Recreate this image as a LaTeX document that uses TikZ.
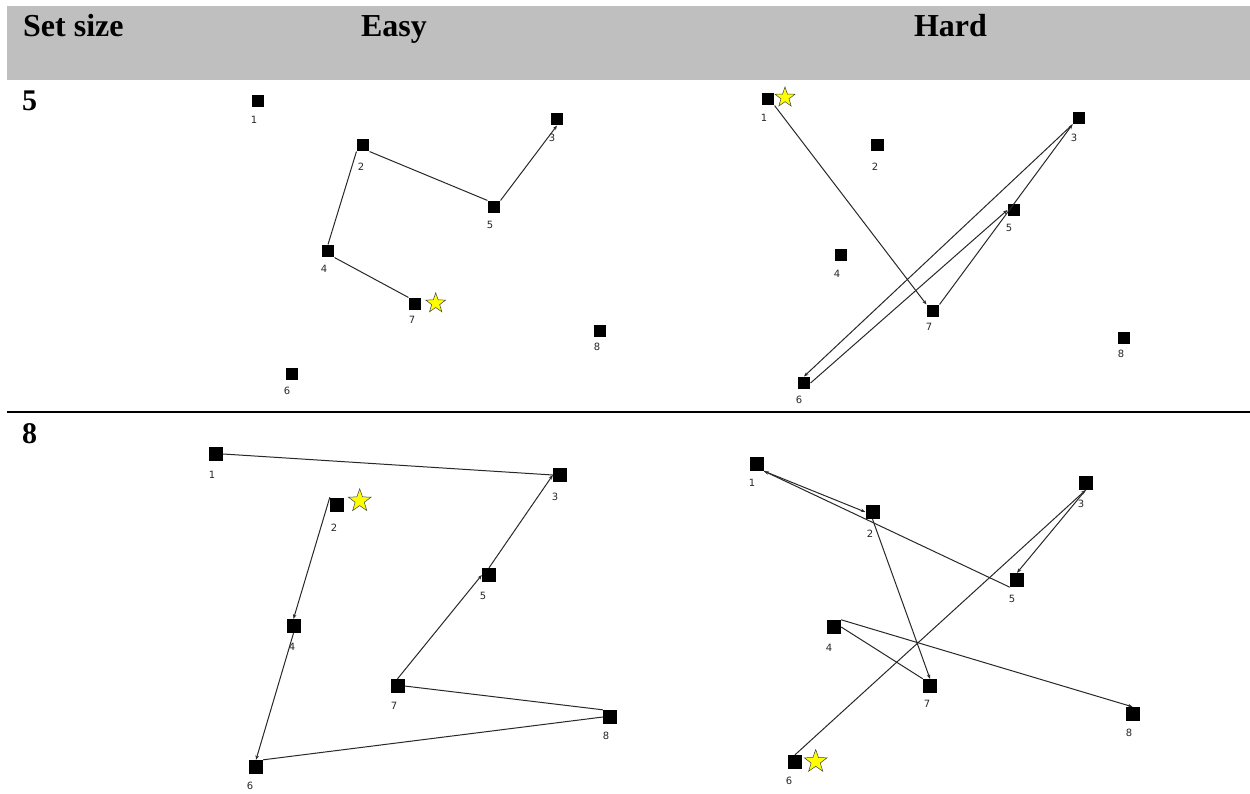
\documentclass[tikz,border=0pt]{standalone}
\usepackage{fontspec}
\setmainfont{Liberation Serif}
\newfontfamily\labfont{DejaVu Sans}
\usetikzlibrary{shapes.geometric,arrows.meta}
\definecolor{hdrgray}{RGB}{191,191,191}
\definecolor{edgegray}{RGB}{40,40,40}
\definecolor{staryellow}{RGB}{255,255,0}
\tikzset{
  sqs/.style={fill=black, draw=none, minimum size=12.7pt, inner sep=0pt},
  sqb/.style={fill=black, draw=none, minimum size=14pt, inner sep=0pt},
  lab/.style={font=\labfont\fontsize{10}{11}\selectfont, inner sep=0pt, text=black!85},
  hdr/.style={font=\bfseries\fontsize{32}{36}\selectfont, inner sep=0pt},
  rowlab/.style={font=\bfseries\fontsize{30}{34}\selectfont, inner sep=0pt},
  startstar/.style={star, star points=5, star point ratio=2.5, fill=staryellow, draw=black!75, line width=0.5pt, inner sep=0pt},
  conn/.style={draw=edgegray, line width=1pt},
  arr/.style={conn, -{Stealth[length=4.5pt,width=3.5pt]}}
}
\begin{document}
\begin{tikzpicture}[x=1pt,y=-1pt]
\useasboundingbox (0,0) rectangle (1250,793);
% header
\fill[hdrgray] (7,6) rectangle (1250,80);
\node[hdr, anchor=base west] (hset) at (23,36) {Set size};
\node[hdr, anchor=base] (heasy) at (394,36) {Easy};
\node[hdr, anchor=base] (hhard) at (950.5,36) {Hard};
\draw[line width=2pt] (7,412) -- (1250,412);
\node[rowlab, anchor=base west] (r5) at (22,110) {5};
\node[rowlab, anchor=base west] (r8) at (22,443) {8};

% ---- set size 5, easy
\foreach \n/\x/\y/\lx/\ly in {1/258/101/254/120, 2/363/145/361/167, 3/557/119/552/138, 4/328/251/324/269, 5/494/207/490/225, 6/292/374/287/391, 7/415/304/412/320, 8/600/331/597/347}{
  \node[sqs] (a\n) at (\x,\y) {};
  \node[lab] (al\n) at (\lx,\ly) {\n};
}
\node[startstar, minimum size=21pt] (sa) at (435.7,303.3) {};
\draw[conn] (a7.north west) -- (a4.south east);
\draw[conn] (a4.north) -- (a2.south west);
\draw[conn] (a2.south east) -- (a5.north west);
\draw[arr] (a5.north east) -- (a3.south);

% ---- set size 5, hard
\foreach \n/\x/\y/\lx/\ly in {1/768/99/764/118, 2/877.5/145/875/167, 3/1079/118/1074/138, 4/841/255/837/274, 5/1014/210/1009/228, 6/804/383/799/400, 7/933/311/929/327, 8/1124/338/1121/354}{
  \node[sqs] (b\n) at (\x,\y) {};
  \node[lab] (bl\n) at (\lx,\ly) {\n};
}
\node[startstar, minimum size=21pt] (sb) at (785,97.5) {};
\draw[arr] (b1.south east) -- (b7.north west);
\draw[arr] (b7.north east) -- (b3.south west);
\draw[arr] (b3.south west) -- (b6.north);
\draw[arr] (b6.east) -- (b5.west);

% ---- set size 8, easy
\foreach \n/\x/\y/\lx/\ly in {1/216/454/212/475, 2/337/504.5/334/528, 3/560/475/555/497, 4/293.5/626/292/647, 5/489/575/483/596, 6/256/767/250/786, 7/397.5/686/394/706, 8/610/717/606/736}{
  \node[sqb] (c\n) at (\x,\y) {};
  \node[lab] (cl\n) at (\lx,\ly) {\n};
}
\node[startstar, minimum size=24pt] (sc) at (359.7,500.8) {};
\draw[arr] (c2.north west) -- (c4.north);
\draw[arr] (c4.south) -- (c6.north);
\draw[conn] (c6.north east) -- (c8.west);
\draw[conn] (c8.north west) -- (c7.east);
\draw[arr] (c7.north) -- (c5.west);
\draw[arr] (c5.north) -- (c3.west);
\draw[conn] (c3.west) -- (c1.east);

% ---- set size 8, hard
\foreach \n/\x/\y/\lx/\ly in {1/757/464/752/483, 2/872.5/512/870/534, 3/1085.5/483/1081/504, 4/834/627/829/648, 5/1017/580/1012/599, 6/795/762/789/781, 7/930/686/927/704, 8/1132.5/714/1129/733}{
  \node[sqb] (d\n) at (\x,\y) {};
  \node[lab] (dl\n) at (\lx,\ly) {\n};
}
\node[startstar, minimum size=24pt] (sd) at (815.7,761.5) {};
\draw[arr] (d6.north) -- (d3.south);
\draw[arr] (d3.south) -- (d5.north);
\draw[arr] (d5.south west) -- (d1.south east);
\draw[arr] (d1.south east) -- (d2.west);
\draw[arr] (d2.south) -- (d7.north);
\draw[conn] (d7.north west) -- (d4.east);
\draw[arr] (d4.north east) -- (d8.north);
\end{tikzpicture}
\end{document}
